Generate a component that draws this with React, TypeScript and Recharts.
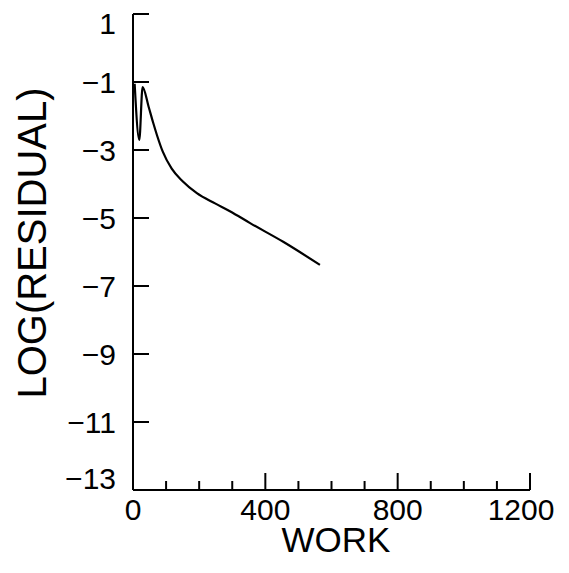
import React from 'react'
import { LineChart, Line, XAxis, YAxis } from 'recharts'

// values
const work = [5, 19, 29, 47, 61, 73, 90, 117, 150, 193, 248, 293, 354, 454, 565]
const logResidual = [-1.05, -2.7, -1.15, -1.72, -2.2, -2.58, -3.05, -3.55, -3.92, -4.27, -4.57, -4.8, -5.15, -5.7, -6.38]

const xTicks = [0, 100, 200, 300, 400, 500, 600, 700, 800, 900, 1000, 1100, 1200]
const xMajor = [0, 400, 800, 1200]
const yTicks = [1, -1, -3, -5, -7, -9, -11, -13]

const data = work.map((w, i) => ({ work: w, value: logResidual[i] }))

const FONT = '"Liberation Sans", Arial, sans-serif'

const fmt = (v: number) => (v < 0 ? '\u2212' + Math.abs(v) : String(v))

function YTick(props: any) {
  const { x, y, payload } = props
  const v = payload.value
  // end labels sit pulled in toward the middle of the axis
  const shift = v === 1 ? 9 : v === -13 ? -12 : 0
  return (
    <g>
      <line x1={x} x2={x + 16} y1={y} y2={y} stroke="#000" strokeWidth={2} />
      <text x={x - 17} y={y + shift} dy={10.5} textAnchor="end" fontSize={30} fontFamily={FONT} fill="#000">
        {fmt(v)}
      </text>
    </g>
  )
}

function XTick(props: any) {
  const { x, y, payload } = props
  const v = payload.value
  const major = xMajor.includes(v)
  const len = major ? 17 : 9
  const shift = v === 1200 ? -9 : 0
  return (
    <g>
      <line x1={x} x2={x} y1={y} y2={y - len} stroke="#000" strokeWidth={2} />
      {major && (
        <text x={x + shift} y={y + 30} textAnchor="middle" fontSize={30} fontFamily={FONT} fill="#000">
          {v}
        </text>
      )}
    </g>
  )
}

const workLabel = (props: any) => {
  const vb = props.viewBox
  return (
    <text x={vb.x + vb.width / 2 + 4.5} y={vb.y + 62} textAnchor="middle" fontSize={35} fontFamily={FONT} fill="#000">
      WORK
    </text>
  )
}

const residualLabel = (props: any) => {
  const vb = props.viewBox
  const cx = vb.x + 24
  const cy = vb.y + vb.height / 2 - 9
  return (
    <text
      x={cx}
      y={cy}
      dy={14}
      transform={`rotate(-90, ${cx}, ${cy})`}
      textAnchor="middle"
      fontSize={40}
      fontFamily={FONT}
      fill="#000"
    >
      LOG(RESIDUAL)
    </text>
  )
}

export default function App() {
  return (
    <div style={{ width: 561, height: 565, background: '#fff' }}>
      <LineChart width={561} height={565} data={data} margin={{ top: 6, right: 39, bottom: 0, left: 0 }}>
        <XAxis
          dataKey="work"
          type="number"
          domain={[0, 1200]}
          ticks={xTicks}
          interval={0}
          height={83}
          tickLine={false}
          tickSize={0}
          tickMargin={0}
          tick={<XTick />}
          axisLine={{ stroke: '#000', strokeWidth: 2 }}
          label={workLabel}
        />
        <YAxis
          type="number"
          domain={[-13, 1]}
          ticks={yTicks}
          interval={0}
          width={125}
          tickLine={false}
          tickSize={0}
          tickMargin={0}
          tick={<YTick />}
          axisLine={{ stroke: '#000', strokeWidth: 2 }}
          label={residualLabel}
        />
        <Line
          type="monotone"
          dataKey="value"
          stroke="#000"
          strokeWidth={2.2}
          dot={false}
          isAnimationActive={false}
        />
      </LineChart>
    </div>
  )
}
